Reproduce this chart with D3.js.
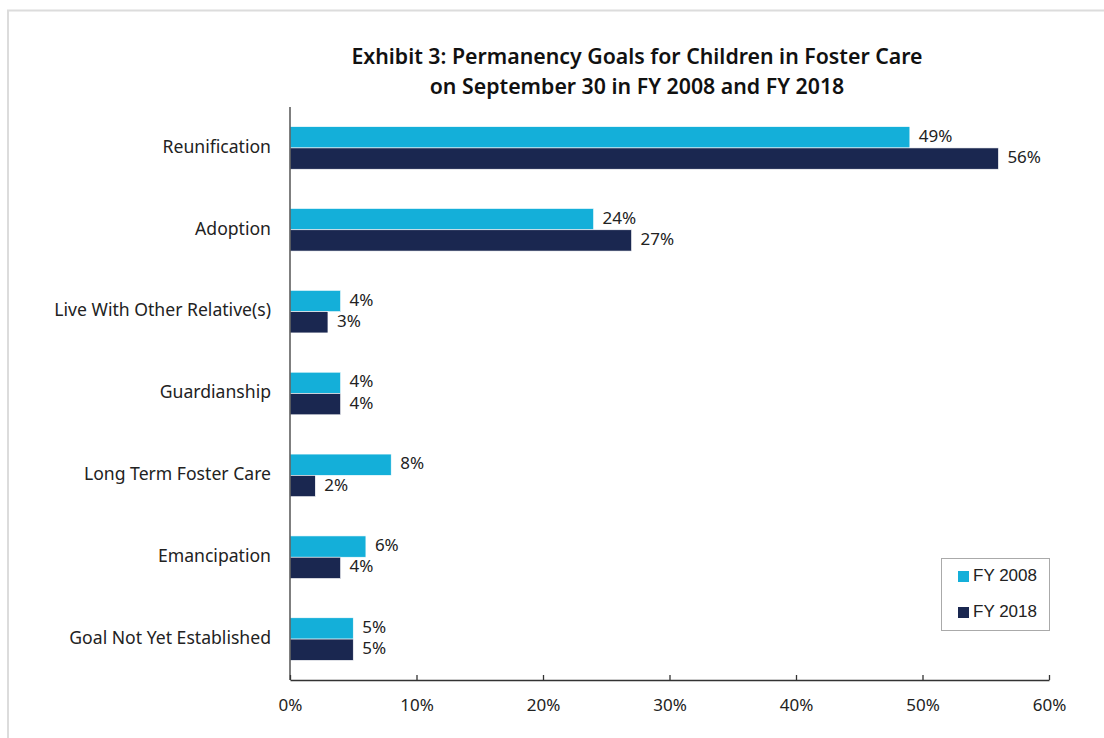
<!DOCTYPE html>
<html><head><meta charset="utf-8">
<script src="https://cdn.jsdelivr.net/npm/d3@7"></script>
<style>
html,body{margin:0;padding:0;background:#fff;}
svg{display:block;}
</style></head>
<body>
<script>
const categories = ["Reunification","Adoption","Live With Other Relative(s)","Guardianship","Long Term Foster Care","Emancipation","Goal Not Yet Established"];
const fy2008 = [49,24,4,4,8,6,5];
const fy2018 = [56,27,3,4,2,4,5];
const seriesNames = ["FY 2008","FY 2018"];
const tickValues = [0,10,20,30,40,50,60];
const titleLines = ["Exhibit 3: Permanency Goals for Children in Foster Care","on September 30 in FY 2008 and FY 2018"];

(function(){
const W = 1104, H = 738;
const colors = ["#14AFD9","#1A2750"];
const svg = d3.select("body").append("svg").attr("width",W).attr("height",H);

// frame
svg.append("rect").attr("x",8).attr("y",10.5).attr("width",W).attr("height",H).attr("fill","none").attr("stroke","#dcdcdc").attr("stroke-width",2);

const pL = 290, pR = 1049, pT = 107, pB = 680;
const x = d3.scaleLinear().domain([0,60]).range([pL,pR]);
const y = d3.scaleBand().domain(categories).range([pT,pB]).paddingInner(0.48).paddingOuter(0.24);
const sub = d3.scaleBand().domain(seriesNames).range([0,y.bandwidth()]);

const font = "'Noto Sans', Lato, sans-serif";
const fs = 17;

// title
svg.append("g").selectAll("text").data(titleLines).join("text")
  .attr("x",637).attr("y",(d,i)=>64+i*30).attr("text-anchor","middle")
  .attr("font-family",font).attr("font-weight",600).attr("font-size",21.3).attr("fill","#111")
  .text(d=>d);

const rows = categories.map((c,i)=>({cat:c, vals:[fy2008[i],fy2018[i]]}));
const g = svg.append("g");
const grp = g.selectAll("g.row").data(rows).join("g").attr("transform",d=>`translate(0,${y(d.cat)})`);
grp.selectAll("rect").data(d=>d.vals.map((v,j)=>({v,s:seriesNames[j],j}))).join("rect")
  .attr("x",x(0)).attr("y",d=>sub(d.s)).attr("width",d=>x(d.v)-x(0)).attr("height",sub.bandwidth())
  .attr("fill",d=>colors[d.j]).attr("stroke","#fff").attr("stroke-width",0.6);
grp.selectAll("text").data(d=>d.vals.map((v,j)=>({v,s:seriesNames[j],j}))).join("text")
  .attr("x",d=>x(d.v)+9).attr("y",d=>sub(d.s)+sub.bandwidth()/2).attr("dominant-baseline","middle")
  .attr("font-family",font).attr("font-size",fs).attr("fill","#222").text(d=>d.v+"%");

// category labels
svg.append("g").selectAll("text").data(categories).join("text")
  .attr("x",271).attr("y",d=>y(d)+y.bandwidth()/2).attr("text-anchor","end").attr("dominant-baseline","middle")
  .attr("font-family",font).attr("font-size",17.6).attr("fill","#222").text(d=>d);

// y axis line
svg.append("line").attr("x1",pL).attr("x2",pL).attr("y1",pT).attr("y2",pB).attr("stroke","#555").attr("stroke-width",1.5);

// x axis
const xAxis = d3.axisBottom(x).tickValues(tickValues).tickSize(-5).tickSizeOuter(0).tickFormat(d=>d+"%").tickPadding(16);
const ax = svg.append("g").attr("transform",`translate(0,${pB})`).call(xAxis);
ax.select(".domain").attr("stroke","#333").attr("stroke-width",1.3);
ax.selectAll(".tick line").attr("stroke","#333").attr("stroke-width",1.3);
ax.selectAll(".tick text").attr("font-family",font).attr("font-size",fs).attr("fill","#222").attr("dy","0.9em");

// legend
const lg = svg.append("g");
lg.append("rect").attr("x",941.5).attr("y",558.5).attr("width",108).attr("height",72).attr("fill","#fff").attr("stroke","#aaa").attr("stroke-width",1);
lg.selectAll("rect.sw").data(seriesNames).join("rect").attr("class","sw")
  .attr("x",958).attr("y",(d,i)=>571+i*36).attr("width",11).attr("height",11).attr("fill",(d,i)=>colors[i]);
lg.selectAll("text").data(seriesNames).join("text")
  .attr("x",973).attr("y",(d,i)=>577+i*36).attr("dominant-baseline","middle")
  .attr("font-family","'Liberation Sans', Arial, sans-serif").attr("font-size",17).attr("fill","#222").text(d=>d);
})();
</script>
</body></html>
